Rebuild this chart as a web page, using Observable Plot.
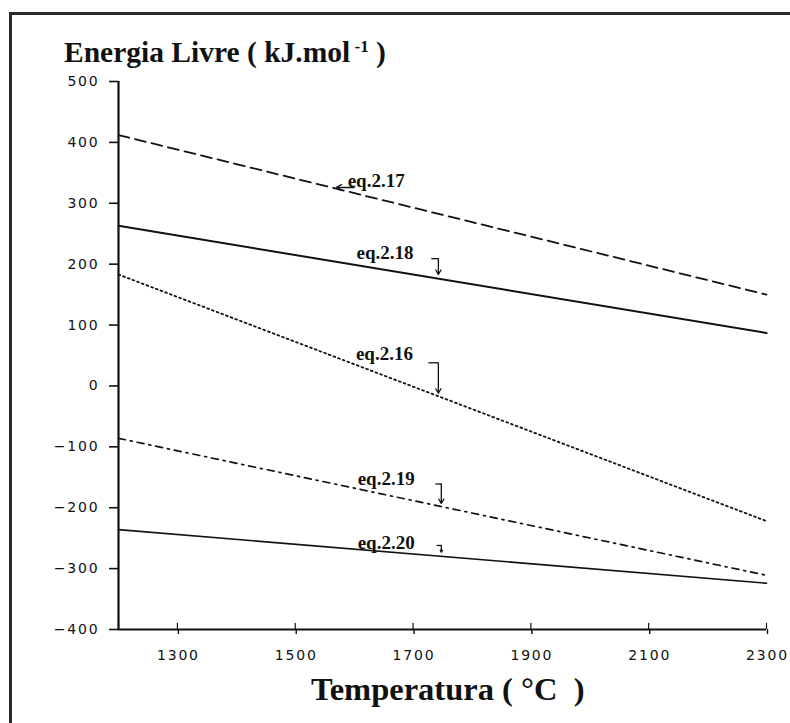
<!DOCTYPE html>
<html>
<head>
<meta charset="utf-8">
<script src="https://cdn.jsdelivr.net/npm/d3@7"></script>
<script src="https://cdn.jsdelivr.net/npm/@observablehq/plot@0.6"></script>
<style>
  html, body { margin: 0; padding: 0; background: #fff; }
  #wrap { position: relative; width: 790px; height: 723px; overflow: hidden; background: #fff; }
  #frame { position: absolute; left: 9px; top: 12px; right: -5px; bottom: -5px;
           border-top: 3px solid #2a2a2a; border-left: 3px solid #2a2a2a; }
  #title { position: absolute; left: 64px; top: 38px; font-family: "Liberation Serif", serif;
           font-weight: bold; font-size: 29.5px; line-height: 1; color: #111; white-space: pre; }
  #title sup { font-size: 17px; vertical-align: 10px; }
  #chart { position: absolute; left: 0; top: 70px; }
  #chart g[aria-label="x-axis tick label"],
  #chart g[aria-label="y-axis tick label"],
  #chart g[aria-label="x-axis tick label"] text,
  #chart g[aria-label="y-axis tick label"] text {
    font-size: 14px !important; letter-spacing: 1.8px; font-family: "DejaVu Sans", sans-serif; }
  #xlabel { position: absolute; left: 311px; top: 673px; font-family: "Liberation Serif", serif;
            font-weight: bold; font-size: 32.5px; line-height: 1; color: #111; white-space: pre; }
</style>
</head>
<body>
<div id="wrap">
  <div id="frame"></div>
  <div id="title">Energia Livre ( kJ.mol<sup> -1</sup> )</div>
  <div id="chart"></div>
  <div id="xlabel">Temperatura ( °C  )</div>
</div>
<script>
// Temperature endpoints (°C)
const temps = [1200, 2300];
// Free energy (kJ/mol) at the endpoints, per equation
const eq217 = [412, 150];
const eq218 = [263, 87];
const eq216 = [183, -222];
const eq219 = [-86, -311];
const eq220 = [-236, -324];

// Axis ticks
const xTicks = [1300, 1500, 1700, 1900, 2100, 2300];
const xTickMarks = [1200, 1300, 1500, 1700, 1900, 2100, 2300];
const yTicks = [500, 400, 300, 200, 100, 0, -100, -200, -300, -400];

// Annotations (data units)
const eqLabels = ["eq.2.17", "eq.2.18", "eq.2.16", "eq.2.19", "eq.2.20"];
const labelT = [1589, 1604, 1603, 1606, 1606];
const labelG = [336, 219, 53, -153, -257];
// bracket arrows for eq.2.18, 2.16, 2.19, 2.20
const hookT1 = [1731, 1726, 1738, 1740];
const hookT2 = [1743, 1743, 1748, 1748];
const hookTop = [209, 38, -161, -262];
const hookBottom = [183, -12, -193, -273];
// left arrow for eq.2.17
const arrowT = [1600, 1570];
const arrowG = 326;

const series = [
  {name: "eq.2.17", v: eq217, dash: "11,6", w: 1.8},
  {name: "eq.2.18", v: eq218, dash: null, w: 2},
  {name: "eq.2.16", v: eq216, dash: "1.8,3.2", w: 1.8},
  {name: "eq.2.19", v: eq219, dash: "7,5,2,5", w: 1.7},
  {name: "eq.2.20", v: eq220, dash: null, w: 1.6}
];

const lineMarks = series.map(s => Plot.line(
  temps.map((t, i) => ({t, g: s.v[i]})),
  {x: "t", y: "g", stroke: "#111", strokeWidth: s.w, strokeDasharray: s.dash}
));

const labels = eqLabels.map((l, i) => ({l, t: labelT[i], g: labelG[i]}));
const hooks = hookT1.map((t1, i) => ({t1, t2: hookT2[i], top: hookTop[i], bot: hookBottom[i]}));

const chart = Plot.plot({
  width: 790,
  height: 600,
  marginLeft: 118,
  marginRight: 24,
  marginTop: 11,
  marginBottom: 41,
  x: {domain: [1200, 2300]},
  y: {domain: [-400, 500]},
  style: {background: "transparent", fontFamily: "DejaVu Sans", fontSize: "13px", color: "#111"},
  marks: [
    Plot.axisY({ticks: yTicks, tickSize: 9, tickPadding: 10, label: null, strokeWidth: 1.6,
                fill: "#111",
                tickFormat: d => d < 0 ? "\u2212" + Math.abs(d) : String(d)}),
    Plot.axisX({ticks: xTicks, tickSize: 5, tickPadding: 16, label: null, strokeWidth: 1.4,
                fill: "#111", dx: 1, tickFormat: d => String(d)}),
    Plot.ruleX(xTickMarks, {x: d => d, y1: -400, y2: -390, stroke: "#111", strokeWidth: 1.2}),
    Plot.ruleX([1200], {stroke: "#111", strokeWidth: 2.2}),
    Plot.ruleY([-400], {stroke: "#111", strokeWidth: 2.2}),
    ...lineMarks,
    Plot.text(labels, {x: "t", y: "g", text: "l", textAnchor: "start",
      fontFamily: "Liberation Serif", fontWeight: "bold", fontSize: 19, fill: "#111"}),
    Plot.link(hooks, {x1: "t1", x2: "t2", y1: "top", y2: "top", stroke: "#111", strokeWidth: 1.3}),
    Plot.arrow(hooks, {x1: "t2", x2: "t2", y1: "top", y2: "bot", stroke: "#111",
      strokeWidth: 1.3, headLength: 6}),
    Plot.arrow([0], {x1: arrowT[0], x2: arrowT[1], y1: arrowG, y2: arrowG, stroke: "#111",
      strokeWidth: 1.4, headLength: 7})
  ]
});
document.getElementById("chart").appendChild(chart);
</script>
</body>
</html>
